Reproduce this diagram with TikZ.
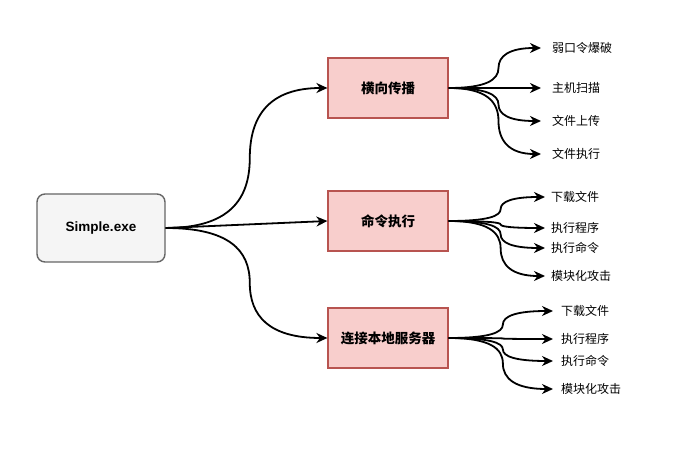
\documentclass[tikz,border=0pt]{standalone}
\usepackage{fontspec}
\setmainfont{Liberation Sans}
\newfontfamily\cjk{Noto Sans CJK SC}
\usetikzlibrary{arrows.meta,calc}
\definecolor{redfill}{HTML}{F8CECC}
\definecolor{redline}{HTML}{B85450}
\definecolor{grayfill}{HTML}{F5F5F5}
\definecolor{grayline}{HTML}{666666}
\tikzset{
  srcbox/.style={draw=grayline,fill=grayfill,line width=1.4pt,rounded corners=8pt,minimum width=128pt,minimum height=68pt,font=\bfseries\fontsize{13.5}{15}\selectfont},
  midbox/.style={draw=redline,fill=redfill,line width=1.2pt,minimum width=120pt,minimum height=60pt,font=\cjk\bfseries\fontsize{13.5}{15}\selectfont},
  leaf/.style={anchor=west,inner sep=0pt,font=\cjk\fontsize{12}{14}\selectfont},
  arr/.style={draw=black,line width=1.8pt,-{Stealth[length=11pt,width=10pt,inset=3.5pt]}},
}
% S-shaped curve: horizontal out, vertical in the middle, horizontal in
\newcommand{\scurve}[3]{%
  \draw[arr] let \p1=(#1), \p2=(#2),
      \n1={\x1+#3*(\x2-\x1)}, \n2={0.5*(\y1+\y2)},
      \n3={\x1+0.75*(\n1-\x1)}, \n4={\y1+0.2*(\y2-\y1)},
      \n5={\x2-0.75*(\x2-\n1)}, \n6={\y2-0.2*(\y2-\y1)} in
    (\p1) .. controls (\n3,\y1) and (\n1,\n4) .. (\n1,\n2)
          .. controls (\n1,\n6) and (\n5,\y2) .. (\p2);}
\begin{document}
\begin{tikzpicture}[x=1pt,y=-1pt]
\useasboundingbox (0,0) rectangle (678,454);
\node[srcbox] (src) at (101,228) {Simple.exe};
\node[midbox] (m1) at (388,88) {横向传播};
\node[midbox] (m2) at (388,221) {命令执行};
\node[midbox] (m3) at (388,338) {连接本地服务器};

\node[leaf] (a1) at (552,48) {弱口令爆破};
\node[leaf] (a2) at (552,88) {主机扫描};
\node[leaf] (a3) at (552,121) {文件上传};
\node[leaf] (a4) at (552,154) {文件执行};

\node[leaf] (b1) at (551,197) {下载文件};
\node[leaf] (b2) at (551,228) {执行程序};
\node[leaf] (b3) at (551,248) {执行命令};
\node[leaf] (b4) at (551,276) {模块化攻击};

\node[leaf] (c1) at (561,311) {下载文件};
\node[leaf] (c2) at (561,339) {执行程序};
\node[leaf] (c3) at (561,361) {执行命令};
\node[leaf] (c4) at (561,389) {模块化攻击};

\scurve{src.east}{m1.west}{0.52}
\draw[arr] (src.east) -- (m2.west);
\scurve{src.east}{m3.west}{0.52}

\scurve{m1.east}{[xshift=-11pt]a1.west}{0.54}
\scurve{m1.east}{[xshift=-11pt]a2.west}{0.54}
\scurve{m1.east}{[xshift=-11pt]a3.west}{0.54}
\scurve{m1.east}{[xshift=-11pt]a4.west}{0.54}
\scurve{m2.east}{[xshift=-6pt]b1.west}{0.54}
\scurve{m2.east}{[xshift=-6pt]b2.west}{0.54}
\scurve{m2.east}{[xshift=-6pt]b3.west}{0.54}
\scurve{m2.east}{[xshift=-6pt]b4.west}{0.54}
\scurve{m3.east}{[xshift=-8pt]c1.west}{0.52}
\scurve{m3.east}{[xshift=-8pt]c2.west}{0.52}
\scurve{m3.east}{[xshift=-8pt]c3.west}{0.52}
\scurve{m3.east}{[xshift=-8pt]c4.west}{0.52}
\end{tikzpicture}
\end{document}
